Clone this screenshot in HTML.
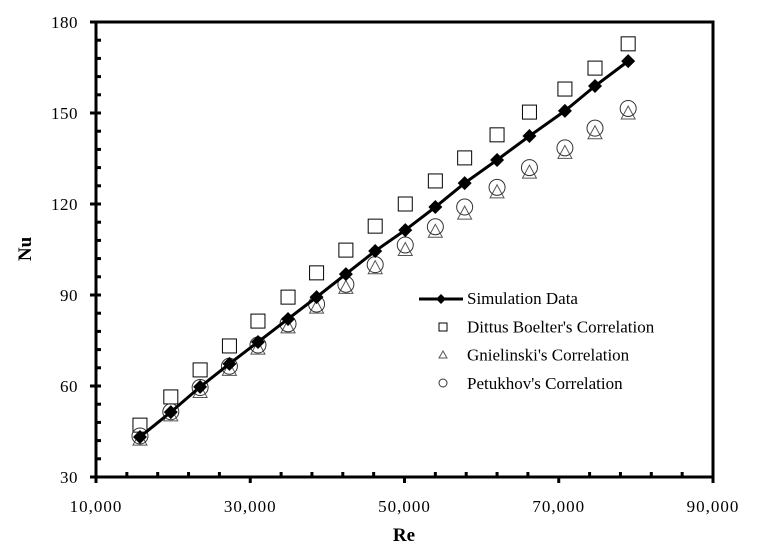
<!DOCTYPE html>
<html><head><meta charset="utf-8"><style>
body{margin:0;background:#fff}
svg{font-family:"Liberation Serif",serif}
</style></head><body>
<svg id="c" width="761" height="554"></svg>
<script>
const reValues=[15700,19700,23500,27300,31000,34900,38600,42400,46200,50100,54000,57800,62000,66200,70800,74700,79000];
const simNu=[43.2,51.4,59.7,67.3,74.5,82.1,89.3,96.9,104.5,111.4,119,126.9,134.5,142.4,150.7,158.9,167.1];
const dittusNu=[47.1,56.4,65.3,73.2,81.4,89.3,97.3,104.8,112.7,120,127.6,135.2,142.8,150.3,157.9,164.8,172.8];
const gnielNu=[42.5,50.5,58.2,65.5,72.5,79.5,86,92.5,99,105,111,117,124,130.5,137,143.5,150];
const petukNu=[43.5,51.5,59.5,66.5,73.5,80.5,87,93.5,100,106.5,112.5,119,125.5,132,138.5,145,151.5];
const xTicks=[10000,30000,50000,70000,90000];
const xTickLabels=["10,000","30,000","50,000","70,000","90,000"];
const yTicks=[30,60,90,120,150,180];
const NS="http://www.w3.org/2000/svg";
const svg=document.getElementById('c');
const X=v=>96+(v-10000)/80000*617;
const Y=v=>477-(v-30)/150*455;
function mk(t,a,p){const e=document.createElementNS(NS,t);for(const k in a)e.setAttribute(k,a[k]);(p||svg).appendChild(e);return e;}
let f=mk('rect',{x:96,y:22,width:617,height:455,fill:'none',stroke:'#000','stroke-width':3});


for(let v=10000;v<=90000;v+=4000){const major=(v-10000)%20000===0;const t=mk('line',{x1:X(v),x2:X(v),y1:477,y2:major?483:472,stroke:'#000','stroke-width':3});

}
for(let v=30;v<=180;v+=6){const major=v%30===0;const t=mk('line',{x1:major?90:96,x2:101,y1:Y(v),y2:Y(v),stroke:'#000','stroke-width':3});

}
xTicks.forEach((v,i)=>{const t=mk('text',{x:X(v),y:512,'text-anchor':'middle','font-size':17,'letter-spacing':1});t.textContent=xTickLabels[i];

});
yTicks.forEach(v=>{const t=mk('text',{x:78,y:Y(v)+6,'text-anchor':'end','font-size':17,'letter-spacing':0.5});t.textContent=v;

});
let xt=mk('text',{x:404,y:541,'text-anchor':'middle','font-size':19,'font-weight':'bold'});xt.textContent='Re';


let yt=mk('text',{x:0,y:0,transform:'translate(31,249) rotate(-90)','text-anchor':'middle','font-size':19,'font-weight':'bold'});yt.textContent='Nu';


function sq(x,y,g,s){s=s||7;mk('rect',{x:x-s,y:y-s,width:2*s,height:2*s,fill:'none',stroke:'#000','stroke-width':1},g);}
function tri(x,y,g,s){s=s||7;mk('polygon',{points:`${x},${y-s} ${x+s},${y+s-1} ${x-s},${y+s-1}`,fill:'none',stroke:'#555','stroke-width':1},g);}
function cir(x,y,g,s){mk('circle',{cx:x,cy:y,r:s||8,fill:'none',stroke:'#333','stroke-width':1},g);}
function dia(x,y,g,s){s=s||7;mk('polygon',{points:`${x},${y-s} ${x+s},${y} ${x},${y+s} ${x-s},${y}`,fill:'#000'},g);}
const gD=mk('g',{});
const gG=mk('g',{});
const gP=mk('g',{});
const gS=mk('g',{});
reValues.forEach((r,i)=>{sq(X(r),Y(dittusNu[i]),gD);tri(X(r),Y(gnielNu[i]),gG);cir(X(r),Y(petukNu[i]),gP);});
mk('polyline',{points:reValues.map((r,i)=>X(r)+','+Y(simNu[i])).join(' '),fill:'none',stroke:'#000','stroke-width':3},gS);
reValues.forEach((r,i)=>dia(X(r),Y(simNu[i]),gS));
const lg=mk('g',{});
mk('line',{x1:419,x2:463,y1:299,y2:299,stroke:'#000','stroke-width':3},lg);dia(441,299,lg,5);
sq(443,327,lg,4);tri(443,355,lg,4);cir(443,383,lg,4);
["Simulation Data","Dittus Boelter's Correlation","Gnielinski's Correlation","Petukhov's Correlation"].forEach((s,i)=>{const t=mk('text',{x:467,y:304+28.3*i,'font-size':17},lg);t.textContent=s;

});
</script>
</body></html>
